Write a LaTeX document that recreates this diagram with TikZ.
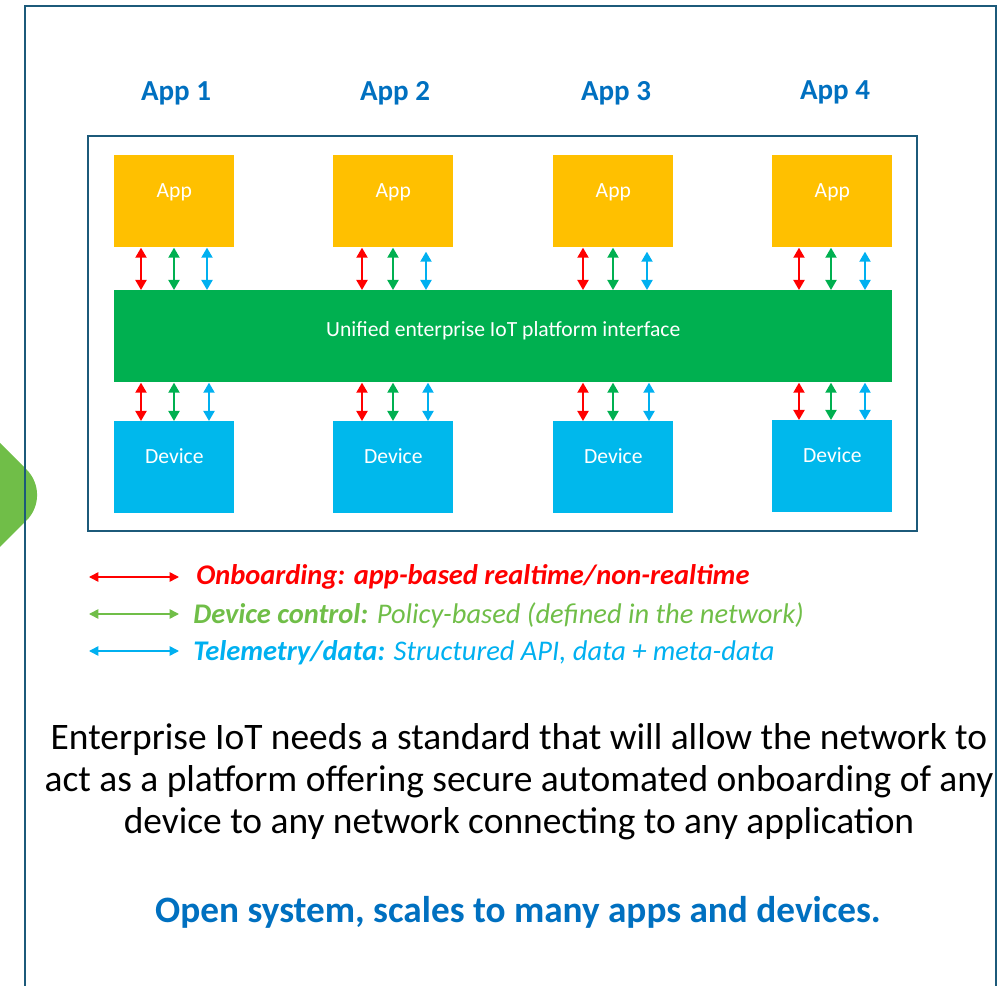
\documentclass[tikz,border=0pt]{standalone}
\usepackage{fontspec}
\setmainfont{Carlito}
\usepackage{xcolor}
\usetikzlibrary{arrows.meta,positioning,calc}

\definecolor{appyellow}{RGB}{255,192,0}
\definecolor{busgreen}{RGB}{0,176,80}
\definecolor{devblue}{RGB}{0,184,236}
\definecolor{titleblue}{RGB}{0,112,192}
\definecolor{framecol}{RGB}{28,90,122}
\definecolor{legendgreen}{RGB}{112,190,72}
\definecolor{legendblue}{RGB}{0,176,240}
\definecolor{chevron}{RGB}{112,190,72}

\begin{document}
\begin{tikzpicture}[x=0.02cm, y=-0.02cm,
    appbox/.style={rectangle, fill=appyellow, minimum width=2.4cm, minimum height=1.84cm,
                   text=white, font=\fontsize{12.3}{14}\selectfont,
                   text height=0.26cm, text depth=0.42cm, anchor=north west, inner sep=0pt},
    devbox/.style={appbox, fill=devblue},
    bus/.style={rectangle, fill=busgreen, minimum width=15.56cm, minimum height=1.84cm,
                text=white, font=\fontsize{12.3}{14}\selectfont,
                text height=0.26cm, text depth=0.26cm, anchor=north west, inner sep=0pt},
    apptitle/.style={font=\fontsize{16.5}{19}\selectfont\bfseries, text=titleblue},
    onb/.style={{Triangle[length=0.2cm,width=0.22cm]}-{Triangle[length=0.2cm,width=0.22cm]}, line width=1.1pt, red},
    ctl/.style={onb, busgreen},
    tel/.style={onb, legendblue},
    leg/.style={{Triangle[length=0.19cm,width=0.19cm]}-{Triangle[length=0.19cm,width=0.19cm]}, line width=0.9pt},
    legtxt/.style={anchor=west, inner sep=0pt, font=\fontsize{16.2}{19}\selectfont\itshape}
  ]
  \useasboundingbox (0,0) rectangle (1005,986);

  % Chevron peeking in from the left
  \fill[chevron] (0,443) -- (26.5,469.5) .. controls (40.6,483.6) and (40.6,506.4) .. (26.5,520.5) -- (0,547) -- cycle;

  % Outer frame
  \draw[framecol, line width=1.4pt] (25,990) -- (25,6) -- (996,6) -- (996,990);

  % Inner frame
  \draw[framecol, line width=0.9pt] (88,136) rectangle (917,531);

  % Column titles
  \node[apptitle] (t1) at (176,93) {App 1};
  \node[apptitle] (t2) at (395,93) {App 2};
  \node[apptitle] (t3) at (616,93) {App 3};
  \node[apptitle] (t4) at (835,92) {App 4};

  % Apps, platform, devices
  \node[appbox] (app1) at (114,155) {App};
  \node[appbox] (app2) at (333,155) {App};
  \node[appbox] (app3) at (553,155) {App};
  \node[appbox] (app4) at (772,155) {App};

  \node[bus] (bus) at (114,290) {Unified enterprise IoT platform interface};

  \node[devbox] (dev1) at (114,421) {Device};
  \node[devbox] (dev2) at (333,421) {Device};
  \node[devbox] (dev3) at (553,421) {Device};
  \node[devbox] (dev4) at (772,420) {Device};

  % App <-> platform
  \draw[onb] ($(app1.south west)+(27,0)$) -- ($(app1.south west |- bus.north)+(27,0)$);
  \draw[ctl] ($(app1.south west)+(60,0)$) -- ($(app1.south west |- bus.north)+(60,0)$);
  \draw[tel] ($(app1.south west)+(93,0)$) -- ($(app1.south west |- bus.north)+(93,0)$);
  \draw[onb] ($(app2.south west)+(29,0)$) -- ($(app2.south west |- bus.north)+(29,0)$);
  \draw[ctl] ($(app2.south west)+(60,0)$) -- ($(app2.south west |- bus.north)+(60,0)$);
  \draw[tel] ($(app2.south west)+(93,4)$) -- ($(app2.south west |- bus.north)+(93,0)$);
  \draw[onb] ($(app3.south west)+(30,0)$) -- ($(app3.south west |- bus.north)+(30,0)$);
  \draw[ctl] ($(app3.south west)+(60,0)$) -- ($(app3.south west |- bus.north)+(60,0)$);
  \draw[tel] ($(app3.south west)+(94,4)$) -- ($(app3.south west |- bus.north)+(94,0)$);
  \draw[onb] ($(app4.south west)+(27,0)$) -- ($(app4.south west |- bus.north)+(27,0)$);
  \draw[ctl] ($(app4.south west)+(59,0)$) -- ($(app4.south west |- bus.north)+(59,0)$);
  \draw[tel] ($(app4.south west)+(93,4)$) -- ($(app4.south west |- bus.north)+(93,0)$);

  % Platform <-> device
  \draw[onb] ($(dev1.north west |- bus.south)+(27,0)$) -- ($(dev1.north west)+(27,0)$);
  \draw[ctl] ($(dev1.north west |- bus.south)+(60,0)$) -- ($(dev1.north west)+(60,0)$);
  \draw[tel] ($(dev1.north west |- bus.south)+(95,0)$) -- ($(dev1.north west)+(95,0)$);
  \draw[onb] ($(dev2.north west |- bus.south)+(29,0)$) -- ($(dev2.north west)+(29,0)$);
  \draw[ctl] ($(dev2.north west |- bus.south)+(60,0)$) -- ($(dev2.north west)+(60,0)$);
  \draw[tel] ($(dev2.north west |- bus.south)+(95,0)$) -- ($(dev2.north west)+(95,0)$);
  \draw[onb] ($(dev3.north west |- bus.south)+(30,0)$) -- ($(dev3.north west)+(30,0)$);
  \draw[ctl] ($(dev3.north west |- bus.south)+(60,0)$) -- ($(dev3.north west)+(60,0)$);
  \draw[tel] ($(dev3.north west |- bus.south)+(96,0)$) -- ($(dev3.north west)+(96,0)$);
  \draw[onb] ($(dev4.north west |- bus.south)+(27,0)$) -- ($(dev4.north west)+(27,0)$);
  \draw[ctl] ($(dev4.north west |- bus.south)+(59,0)$) -- ($(dev4.north west)+(59,0)$);
  \draw[tel] ($(dev4.north west |- bus.south)+(93,0)$) -- ($(dev4.north west)+(93,0)$);

  % Legend
  \coordinate (l1a) at (89,577);  \coordinate (l1b) at (179,577);
  \coordinate (l2a) at (89,614);  \coordinate (l2b) at (179,614);
  \coordinate (l3a) at (89,651);  \coordinate (l3b) at (179,651);
  \draw[leg, red] (l1a) -- (l1b);
  \draw[leg, legendgreen] (l2a) -- (l2b);
  \draw[leg, legendblue] (l3a) -- (l3b);
  \node[legtxt, text=red] (k1) at (196,577) {\bfseries Onboarding: app-based realtime/non-realtime};
  \node[legtxt, text=legendgreen] (k2) at (193,615) {\textbf{Device control:} Policy-based (defined in the network)};
  \node[legtxt, text=legendblue] (k3) at (193,653) {\textbf{Telemetry/data:} Structured API, data + meta-data};

  % Statement
  \node[align=center, font=\fontsize{21.3}{23.8}\selectfont] (msg) at (519,782)
    {Enterprise IoT needs a standard that will allow the network to\\
     act as a platform offering secure automated onboarding of any\\
     device to any network connecting to any application};
  \node[font=\fontsize{21.2}{24}\selectfont\bfseries, text=titleblue] (claim) at (518,912)
    {Open system, scales to many apps and devices.};

\end{tikzpicture}
\end{document}
